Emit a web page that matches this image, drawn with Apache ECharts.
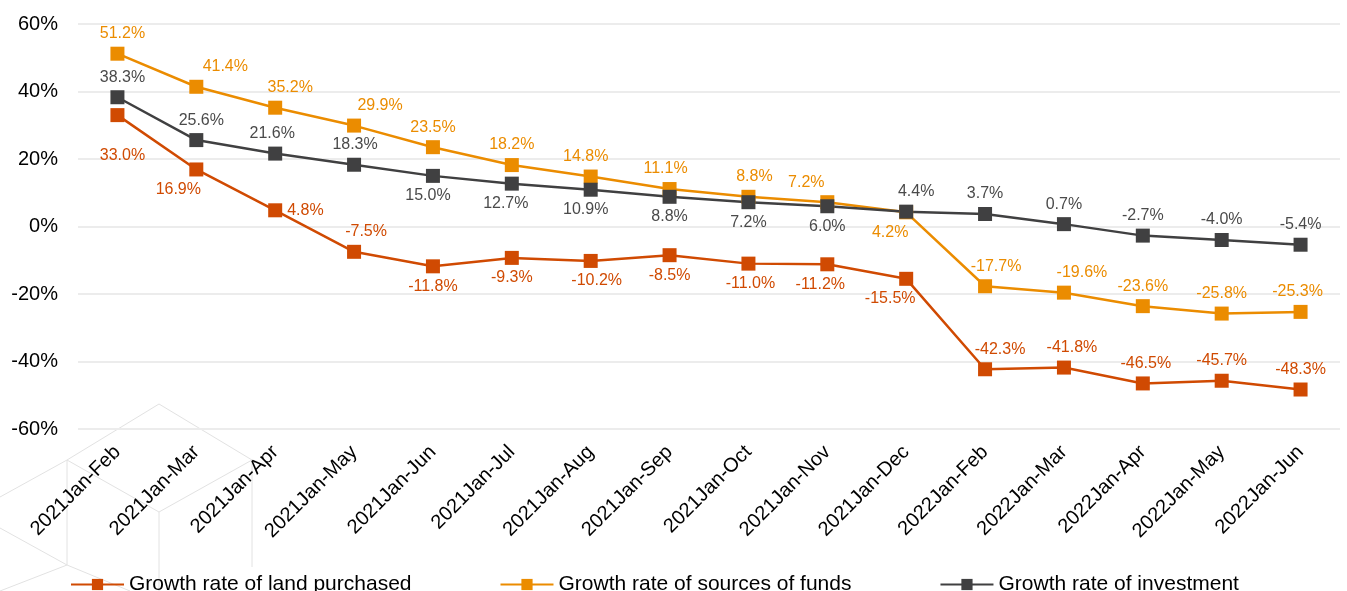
<!DOCTYPE html>
<html>
<head>
<meta charset="utf-8">
<script src="https://cdn.jsdelivr.net/npm/echarts@6/dist/echarts.min.js"></script>
<style>
  html, body { margin: 0; padding: 0; background: #fff; }
  #chart { width: 1347px; height: 591px; }
</style>
</head>
<body>
<div id="chart"></div>
<script>
// categories
const periods = [
  '2021Jan-Feb', '2021Jan-Mar', '2021Jan-Apr', '2021Jan-May', '2021Jan-Jun', '2021Jan-Jul',
  '2021Jan-Aug', '2021Jan-Sep', '2021Jan-Oct', '2021Jan-Nov', '2021Jan-Dec',
  '2022Jan-Feb', '2022Jan-Mar', '2022Jan-Apr', '2022Jan-May', '2022Jan-Jun'
]

// series values (%)
const landPurchased = [33.0, 16.9, 4.8, -7.5, -11.8, -9.3, -10.2, -8.5, -11.0, -11.2, -15.5, -42.3, -41.8, -46.5, -45.7, -48.3]
const sourcesOfFunds = [51.2, 41.4, 35.2, 29.9, 23.5, 18.2, 14.8, 11.1, 8.8, 7.2, 4.2, -17.7, -19.6, -23.6, -25.8, -25.3]
const investment = [38.3, 25.6, 21.6, 18.3, 15.0, 12.7, 10.9, 8.8, 7.2, 6.0, 4.4, 3.7, 0.7, -2.7, -4.0, -5.4]

// y axis ticks
const yMin = -60
const yMax = 60
const yStep = 20

// label placement (style only, kept apart from values)
const landLabelPos = ['bottom', 'bottom', 'right', 'top', 'bottom', 'bottom', 'bottom', 'bottom', 'bottom', 'bottom', 'bottom', 'top', 'top', 'top', 'top', 'top']
const landLabelDx = [5, -18, 0, 12, 0, 0, 6, 0, 2, -7, -16, 15, 8, 3, 0, 0]
const landLabelDy = [20, 0, 0, 0, 0, 0, 0, 0, 0, 0, 0, 0, 0, 0, 0, 0]
const fundsLabelPos = ['top', 'top', 'top', 'top', 'top', 'top', 'top', 'top', 'top', 'top', 'bottom', 'top', 'top', 'top', 'top', 'top']
const fundsLabelDx = [5, 29, 15, 26, 0, 0, -5, -4, 6, -21, -16, 11, 18, 0, 0, -3]
const investLabelPos = ['top', 'top', 'top', 'top', 'bottom', 'bottom', 'bottom', 'bottom', 'bottom', 'bottom', 'top', 'top', 'top', 'top', 'top', 'top']
const investLabelDx = [5, 5, -3, 1, -5, -6, -5, 0, 0, 0, 10, 0, 0, 0, 0, 0]
const noShift = periods.map(() => 0)

const colors = {
  land: '#D04A02',
  funds: '#EB8C00',
  invest: '#404041'
}

const buildData = (values, positions, dx, dy) => values.map((v, i) => ({
  value: v,
  label: { position: positions[i], offset: [dx[i], dy[i]] }
}))

const makeSeries = (name, values, positions, dx, dy, color, labelColor) => ({
  name,
  type: 'line',
  data: buildData(values, positions, dx, dy),
  symbol: 'rect',
  symbolSize: 14,
  lineStyle: { width: 2.5, color },
  itemStyle: { color },
  label: {
    show: true,
    color: labelColor,
    fontSize: 16,
    fontFamily: 'Liberation Sans, Arial, sans-serif',
    formatter: (p) => p.value.toFixed(1) + '%'
  },
  emphasis: { disabled: true }
})

// faint cube decoration in the lower-left corner
const decoLines = [
  [[159, 404], [252, 460], [159, 512], [67, 460], [159, 404]],
  [[67, 460], [67, 565]],
  [[159, 512], [159, 591]],
  [[252, 460], [252, 567]],
  [[0, 497], [67, 460]],
  [[0, 528], [67, 565], [130, 591]],
  [[67, 565], [0, 591]]
]

const chart = echarts.init(document.getElementById('chart'))

chart.setOption({
  animation: false,
  backgroundColor: '#fff',
  textStyle: { fontFamily: 'Liberation Sans, Arial, sans-serif' },
  graphic: decoLines.map(pts => ({
    type: 'polyline',
    silent: true,
    z: -10,
    shape: { points: pts },
    style: { stroke: '#e2e2e2', lineWidth: 1, fill: null }
  })),
  grid: {
    left: 78,
    right: 7,
    top: 24,
    bottom: 162
  },
  legend: {
    left: 65,
    top: 569,
    itemWidth: 53,
    itemHeight: 14,
    itemGap: 88,
    textStyle: { fontSize: 21, color: '#000' },
    data: ['Growth rate of land purchased', 'Growth rate of sources of funds', 'Growth rate of investment']
  },
  xAxis: {
    type: 'category',
    data: periods,
    boundaryGap: true,
    axisLine: { show: false },
    axisTick: { show: false },
    axisLabel: {
      rotate: 45,
      interval: 0,
      margin: 20,
      fontSize: 20,
      color: '#000'
    }
  },
  yAxis: {
    type: 'value',
    min: yMin,
    max: yMax,
    interval: yStep,
    axisLine: { show: false },
    axisTick: { show: false },
    axisLabel: {
      margin: 20,
      fontSize: 20,
      color: '#000',
      formatter: '{value}%'
    },
    splitLine: { lineStyle: { color: '#ececec', width: 2 } }
  },
  series: [
    makeSeries('Growth rate of land purchased', landPurchased, landLabelPos, landLabelDx, landLabelDy, colors.land, colors.land),
    makeSeries('Growth rate of sources of funds', sourcesOfFunds, fundsLabelPos, fundsLabelDx, noShift, colors.funds, colors.funds),
    makeSeries('Growth rate of investment', investment, investLabelPos, investLabelDx, noShift, colors.invest, '#4a4a4a')
  ]
})

window.addEventListener('resize', () => chart.resize())
</script>
</body>
</html>
